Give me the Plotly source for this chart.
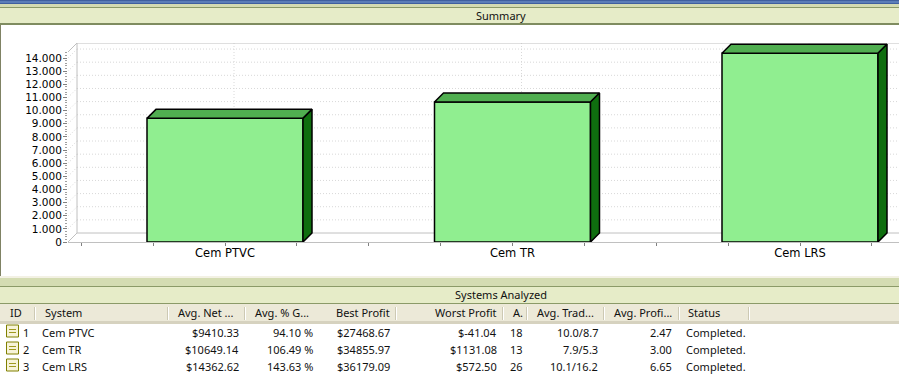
import plotly.graph_objects as go

# ---- data ----
systems = ["Cem PTVC", "Cem TR", "Cem LRS"]
avg_net = [9410.33, 10649.14, 14362.62]
ids = ["1", "2", "3"]
net_text = ["$9410.33", "$10649.14", "$14362.62"]
gain_text = ["94.10 %", "106.49 %", "143.63 %"]
best_text = ["$27468.67", "$34855.97", "$36179.09"]
worst_text = ["$-41.04", "$1131.08", "$572.50"]
a_text = ["18", "13", "26"]
trade_text = ["10.0/8.7", "7.9/5.3", "10.1/16.2"]
profit_text = ["2.47", "3.00", "6.65"]
status_text = ["Completed.", "Completed.", "Completed."]
headers = ["ID", "System", "Avg. Net ...", "Avg. % G...", "Best Profit", "Worst Profit",
           "A.", "Avg. Trad...", "Avg. Profi...", "Status"]
y_ticks = list(range(0, 15000, 1000))
y_minor = list(range(0, 14600, 200))

# ---- geometry ----
W, H = 899, 386
LEFT, FLOOR, TOP = 68, 242, 43
X0_PX, X_STEP = 225, 287.5     # px of first category, px per category
Y_STEP = 13.14 / 1000          # px per value unit
DEPTH = 9
BAR_PX = 156
dx = DEPTH / X_STEP
dy = DEPTH / Y_STEP
half = BAR_PX / X_STEP / 2
x_range = [(LEFT - X0_PX) / X_STEP, (W - X0_PX) / X_STEP]
y_range = [0, (FLOOR - TOP) / Y_STEP]
FONT = "DejaVu Sans"
TFONT = "Noto Sans"
GRID = "#d8d8d8"
WALL = "#c0c0c0"
DOT = "1px,2px"

fig = go.Figure()


def wall(xs, ys, color=WALL, dash="solid", width=1):
    fig.add_trace(go.Scatter(x=xs, y=ys, mode="lines", hoverinfo="skip", showlegend=False,
                             line=dict(color=color, width=width, dash=dash), cliponaxis=False))


# back wall and side wall
for v in y_ticks[1:]:
    wall([x_range[0] + dx, x_range[1]], [v + dy, v + dy], GRID, DOT)
    wall([x_range[0], x_range[0] + dx], [v, v + dy], GRID, DOT)
for i in range(len(systems)):
    wall([i + dx, i + dx], [dy, y_range[1]], GRID, DOT)
wall([x_range[0] + dx, x_range[0] + dx], [dy, y_range[1]])
wall([x_range[0] + dx, x_range[1]], [y_range[1], y_range[1]])
wall([x_range[0] + dx, x_range[1]], [dy, dy])
wall([x_range[0], x_range[0] + dx], [0, dy])
wall([x_range[0], x_range[0] + dx], [y_range[1] - dy, y_range[1]])

# bars on overlay axes so that they sit above the walls
xs = list(range(len(systems)))
fig.add_trace(go.Bar(x=xs, y=avg_net, width=BAR_PX / X_STEP, xaxis="x2", yaxis="y2",
                     marker=dict(color="#90ee90", line=dict(color="black", width=1.5)),
                     hoverinfo="skip", showlegend=False))
for i, v in zip(xs, avg_net):
    fig.add_trace(go.Scatter(
        x=[i - half, i - half + dx, i + half + dx, i + half, i - half],
        y=[v, v + dy, v + dy, v, v], mode="lines", fill="toself", fillcolor="#50ae50",
        line=dict(color="black", width=1.5), xaxis="x2", yaxis="y2",
        hoverinfo="skip", showlegend=False, cliponaxis=False))
    fig.add_trace(go.Scatter(
        x=[i + half, i + half + dx, i + half + dx, i + half, i + half],
        y=[v, v + dy, dy, 0, v], mode="lines", fill="toself", fillcolor="#0f6e0f",
        line=dict(color="black", width=1.5), xaxis="x2", yaxis="y2",
        hoverinfo="skip", showlegend=False, cliponaxis=False))


def rect(x0, y0, x1, y1, fill):
    return dict(type="rect", xref="paper", yref="paper", x0=x0 / W, x1=x1 / W,
                y0=1 - y0 / H, y1=1 - y1 / H, fillcolor=fill, line=dict(width=0), layer="below")


def hline(x0, x1, y, color, width=1):
    return dict(type="line", xref="paper", yref="paper", x0=x0 / W, x1=x1 / W,
                y0=1 - y / H, y1=1 - y / H, line=dict(color=color, width=width), layer="above")


shapes = [
    rect(0, 0, W, 1, "#3f5f9f"), rect(0, 1, W, 3, "#5b7db8"), rect(0, 3, W, 4, "#3f5f9f"),
    rect(0, 4, W, 7, "#d4dbb2"), rect(0, 7, W, 8, "#8b9a68"), rect(0, 8, W, 23, "#e6ecc8"),
    rect(0, 23, W, 25, "#7f8c60"), rect(0, 25, 1, 276, "#7f8264"),
    rect(0, 276, W, 278, "#f3f1e4"),
    rect(0, 278, W, 286, "#d4dcb2"), rect(0, 286, W, 287, "#8b9a68"), rect(0, 287, W, 303, "#e6ecc8"),
    rect(0, 303, W, 304, "#8b9a68"), rect(0, 304, W, 321, "#ece9d8"), rect(0, 321, W, 324, "#d6d2bf"),
]
for x in [35, 168, 245, 396, 503, 527, 604, 679, 749]:
    shapes.append(rect(x - 1, 307, x, 320, "#cdc9b4"))
    shapes.append(rect(x, 307, x + 1, 320, "#ffffff"))
for top in [325, 342, 359]:
    shapes.append(dict(type="rect", xref="paper", yref="paper", x0=6.5 / W, x1=18.5 / W,
                       y0=1 - top / H, y1=1 - (top + 12) / H, fillcolor="#f7f3d8",
                       line=dict(color="#808000", width=1), layer="above"))
    shapes.append(hline(9, 16, top + 4.5, "#a09a20"))
    shapes.append(hline(9, 16, top + 7.5, "#a09a20"))

ann = []


def text(x, y, s, anchor="left", font=TFONT, size=11, color="#111111"):
    ann.append(dict(text=s, x=x / W, y=1 - y / H, xref="paper", yref="paper", showarrow=False,
                    xanchor=anchor, yanchor="middle", font=dict(family=font, size=size, color=color),
                    borderpad=0, borderwidth=0))


text(501, 15, "Summary", "center")
text(501, 294, "Systems Analyzed", "center")
head_pos = [(10, "left"), (45, "left"), (178, "left"), (255, "left"), (390, "right"),
            (497, "right"), (513, "left"), (537, "left"), (614, "left"), (688, "left")]
for (x, a), h in zip(head_pos, headers):
    text(x, 312, h, a)
row_y = [332, 349, 366]
cols = [(23, "left", ids), (42, "left", systems), (239, "right", net_text), (313, "right", gain_text),
        (390, "right", best_text), (497, "right", worst_text), (510, "left", a_text),
        (598, "right", trade_text), (672, "right", profit_text), (686, "left", status_text)]
for x, a, vals in cols:
    for y, v in zip(row_y, vals):
        text(x, y, v, a)

fig.update_layout(
    template="none",
    width=W, height=H, margin=dict(l=0, r=0, t=0, b=0, pad=0), autosize=False,
    paper_bgcolor="white", plot_bgcolor="rgba(0,0,0,0)", separators=",.", showlegend=False,
    shapes=shapes, annotations=ann,
    xaxis=dict(domain=[LEFT / W, 1], range=x_range, tickvals=xs, ticktext=systems, automargin=False,
               showgrid=False, zeroline=False, showline=True, linecolor=WALL, linewidth=1,
               ticks="outside", ticklen=3, tickcolor="#808080", tickwidth=1, ticklabelstandoff=-3,
               minor=dict(tick0=-0.5, dtick=0.25, ticks="outside", ticklen=3, tickcolor="#808080"),
               tickfont=dict(family=FONT, size=11.5, color="black")),
    yaxis=dict(domain=[1 - FLOOR / H, 1 - TOP / H], range=y_range, tickvals=y_ticks, tickformat=",d",
               automargin=False, showgrid=False, zeroline=False, showline=False,
               ticks="outside", ticklen=4, tickcolor="#808080", tickwidth=1, ticklabelstandoff=-1,
               minor=dict(tickmode="array", tickvals=y_minor, ticks="outside", ticklen=2, tickcolor="#a0a0a0"),
               tickfont=dict(family=FONT, size=10.5, color="black")),
    xaxis2=dict(domain=[LEFT / W, 1], range=x_range, overlaying="x", visible=False),
    yaxis2=dict(domain=[1 - FLOOR / H, 1 - TOP / H], range=y_range, overlaying="y", visible=False),
)
fig.write_html("out.html", config=dict(displayModeBar=False),
               post_script="document.body.style.margin='0';document.documentElement.style.overflow='hidden';")
